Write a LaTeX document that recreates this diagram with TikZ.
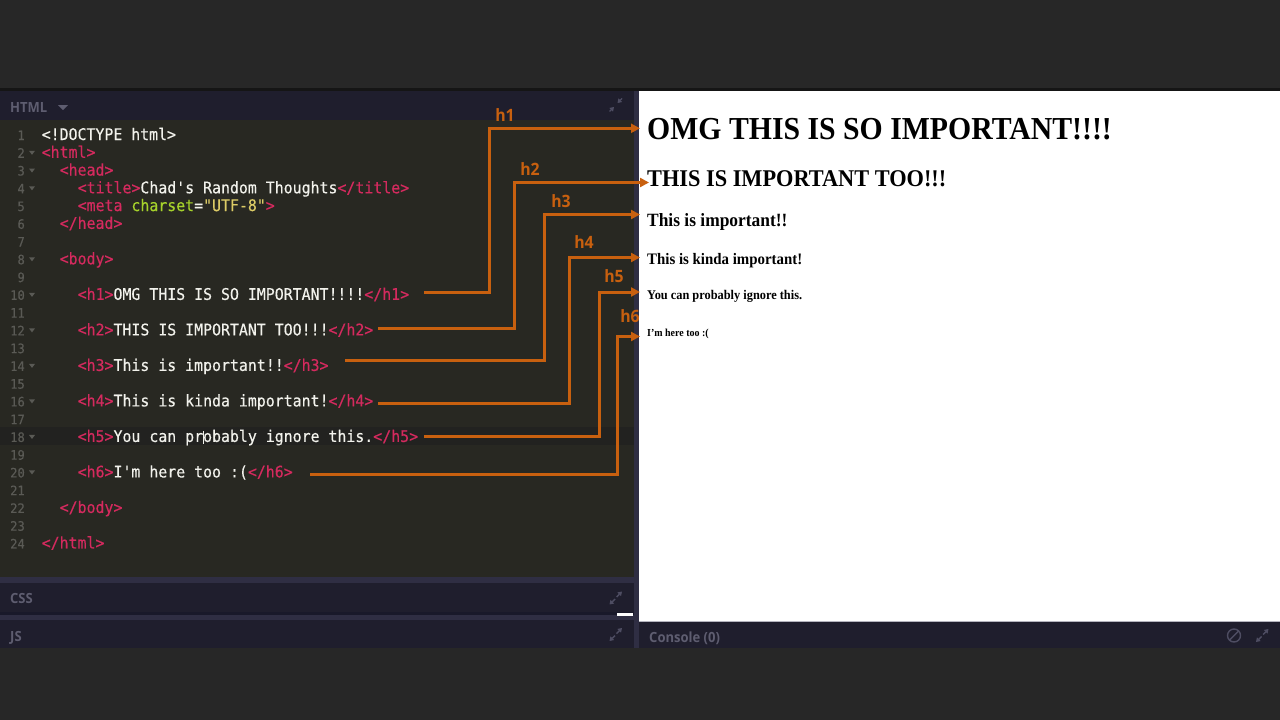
\documentclass[tikz,border=0pt]{standalone}
\usepackage{fontspec}
\setmainfont{Liberation Serif}[FakeStretch=0.93]
\setmonofont{DejaVu Sans Mono}[FakeStretch=0.93,FakeBold=0.35]
\newfontfamily\uifont{Open Sans}[FakeStretch=0.93]
\usetikzlibrary{arrows.meta}
\definecolor{bgdark}{HTML}{272727}
\definecolor{topline}{HTML}{151515}
\definecolor{hdr}{HTML}{1F1E2D}
\definecolor{codebg}{HTML}{282822}
\definecolor{hiline}{HTML}{222220}
\definecolor{divider}{HTML}{2F2E43}
\definecolor{darkline}{HTML}{19192A}
\definecolor{tagc}{HTML}{D42A5E}
\definecolor{txtc}{HTML}{F2F2EC}
\definecolor{attrc}{HTML}{A6D22B}
\definecolor{strc}{HTML}{DCCB66}
\definecolor{lnum}{HTML}{5A5A55}
\definecolor{orng}{HTML}{C8600F}
\definecolor{uigray}{HTML}{5E5D70}
\definecolor{icongray}{HTML}{4E4D62}
\definecolor{consoleline}{HTML}{B4B4BE}
\newcommand\HTag[1]{\textcolor{tagc}{#1}}
\newcommand\HAttr[1]{\textcolor{attrc}{#1}}
\newcommand\HStr[1]{\textcolor{strc}{#1}}
\tikzset{
  codeline/.style={anchor=base west, inner sep=0pt, text=txtc, font=\ttfamily\fontsize{16}{16}\selectfont},
  lnumst/.style={anchor=base east, inner sep=0pt, text=lnum, font=\ttfamily\fontsize{13}{13}\selectfont},
  hd/.style={anchor=base west, inner sep=0pt, text=black, font=\bfseries\fontsize{#1}{#1}\selectfont},
  lbl/.style={anchor=base, inner sep=0pt, text=orng, font=\uifont\bfseries\fontsize{17}{17}\selectfont},
  uitext/.style={anchor=base west, inner sep=0pt, text=uigray, font=\uifont\bfseries\fontsize{14}{14}\selectfont},
  conn/.style={draw=orng, line width=3pt, -{Triangle[length=9pt,width=9pt]}},
  icon/.style={draw=icongray, line width=1.4pt},
  icontip/.style={icon, -{Triangle[length=4pt,width=5pt]}},
}
\begin{document}
\begin{tikzpicture}[x=1pt,y=-1pt]
\useasboundingbox (0,0) rectangle (1280,720);
% backgrounds
\fill[bgdark] (0,0) rectangle (1280,720);
\fill[topline] (0,88) rectangle (1280,91);
\fill[hdr] (0,91) rectangle (634,120);
\fill[codebg] (0,120) rectangle (634,577);
\fill[hiline] (0,427) rectangle (634,445);
\fill[divider] (634,91) rectangle (639,648);
\fill[white] (639,91) rectangle (1280,621);
\fill[divider] (0,577) rectangle (634,583);
\fill[hdr] (0,583) rectangle (634,612);
\fill[darkline] (0,612) rectangle (634,615);
\fill[divider] (0,615) rectangle (634,620);
\fill[hdr] (0,620) rectangle (634,648);
\fill[hdr] (639,621) rectangle (1280,648);
\draw[consoleline, line width=1pt] (639,621) -- (1280,621);
\fill[white] (617,613) rectangle (633,615.5);

% panel titles
\node[uitext] (thtml) at (10,112) {HTML};
\fill[uigray] (58,105) -- (68,105) -- (63,110) -- cycle;
\node[uitext] (tcss) at (10,603) {CSS};
\node[uitext] (tjs) at (10,641) {JS};
\node[uitext] (tcons) at (649,642) {Console (0)};

% icons
\draw[icontip] (622,98.5) -- (617.5,103);
\draw[icontip] (609.5,111.5) -- (614,107);
\draw[icontip] (616.5,597) -- (622,591.5);
\draw[icontip] (615,599) -- (609.5,604.5);
\draw[icontip] (616.5,633.5) -- (622,628);
\draw[icontip] (615,635.5) -- (609.5,641);
\draw[icontip] (1263,634.5) -- (1268.5,629);
\draw[icontip] (1261.5,636.5) -- (1256,642);
\draw[icon] (1234,635.5) circle[radius=6.5];
\draw[icon] (1229.5,640) -- (1238.5,631);

% line numbers and fold marks
\foreach \n in {1,...,24}
  \node[lnumst] (ln\n) at (25,{140+17.76*(\n-1)}) {\n};
\foreach \n in {2,3,4,8,10,12,14,16,18,20}
  \fill[lnum] (29,{140+17.76*(\n-1)-7}) -- (35,{140+17.76*(\n-1)-7}) -- (32,{140+17.76*(\n-1)-3}) -- cycle;

% code
\node[codeline] (c1) at (41.5,140) {<!DOCTYPE html>};
\node[codeline] (c2) at (41.5,157.76) {\HTag{<html>}};
\node[codeline] (c3) at (59.5,175.52) {\HTag{<head>}};
\node[codeline] (c4) at (77.5,193.28) {\HTag{<title>}Chad's Random Thoughts\HTag{</title>}};
\node[codeline] (c5) at (77.5,211.04) {\HTag{<meta }\HAttr{charset}=\HStr{"UTF-8"}\HTag{>}};
\node[codeline] (c6) at (59.5,228.8) {\HTag{</head>}};
\node[codeline] (c8) at (59.5,264.32) {\HTag{<body>}};
\node[codeline] (c10) at (77.5,299.84) {\HTag{<h1>}OMG THIS IS SO IMPORTANT!!!!\HTag{</h1>}};
\node[codeline] (c12) at (77.5,335.36) {\HTag{<h2>}THIS IS IMPORTANT TOO!!!\HTag{</h2>}};
\node[codeline] (c14) at (77.5,370.88) {\HTag{<h3>}This is important!!\HTag{</h3>}};
\node[codeline] (c16) at (77.5,406.4) {\HTag{<h4>}This is kinda important!\HTag{</h4>}};
\node[codeline] (c18) at (77.5,441.92) {\HTag{<h5>}You can probably ignore this.\HTag{</h5>}};
\node[codeline] (c20) at (77.5,477.44) {\HTag{<h6>}I'm here too :(\HTag{</h6>}};
\node[codeline] (c22) at (59.5,512.96) {\HTag{</body>}};
\node[codeline] (c24) at (41.5,548.48) {\HTag{</html>}};
\draw[txtc, line width=1pt] (203,431) -- (203,444);

% rendered output
\node[hd=32] (o1) at (647,139) {OMG THIS IS SO IMPORTANT!!!!};
\node[hd=24] (o2) at (647,186) {THIS IS IMPORTANT TOO!!!};
\node[hd=18.72] (o3) at (647,226.5) {This is important!!};
\node[hd=16] (o4) at (647,264.3) {This is kinda important!};
\node[hd=13.28] (o5) at (647,299.3) {You can probably ignore this.};
\node[hd=10.72] (o6) at (647,336) {I'm here too :(};

% connectors
\coordinate (s1) at (424,292.5); \coordinate (b1) at (489,292.5); \coordinate (t1) at (489,128.3); \coordinate (e1) at (640,128.3);
\coordinate (s2) at (378,328.3); \coordinate (b2) at (514.3,328.3); \coordinate (t2) at (514.3,182.5); \coordinate (e2) at (649,182.5);
\coordinate (s3) at (345,360.3); \coordinate (b3) at (544.3,360.3); \coordinate (t3) at (544.3,214.5); \coordinate (e3) at (640,214.5);
\coordinate (s4) at (378,403.3); \coordinate (b4) at (569,403.3); \coordinate (t4) at (569,257.5); \coordinate (e4) at (640,257.5);
\coordinate (s5) at (424,436); \coordinate (b5) at (599,436); \coordinate (t5) at (599,292); \coordinate (e5) at (640,292);
\coordinate (s6) at (310,474); \coordinate (b6) at (617.3,474); \coordinate (t6) at (617.3,336.5); \coordinate (e6) at (640,336.5);
\foreach \i in {1,...,6}
  \draw[conn] (s\i) -- (b\i) -- (t\i) -- (e\i);

\node[lbl] (l1) at (505,121) {h1};
\node[lbl] (l2) at (530,175) {h2};
\node[lbl] (l3) at (561,207.3) {h3};
\node[lbl] (l4) at (584,248.3) {h4};
\node[lbl] (l5) at (614,282.7) {h5};
\node[lbl] (l6) at (630,322.7) {h6};
\end{tikzpicture}
\end{document}
